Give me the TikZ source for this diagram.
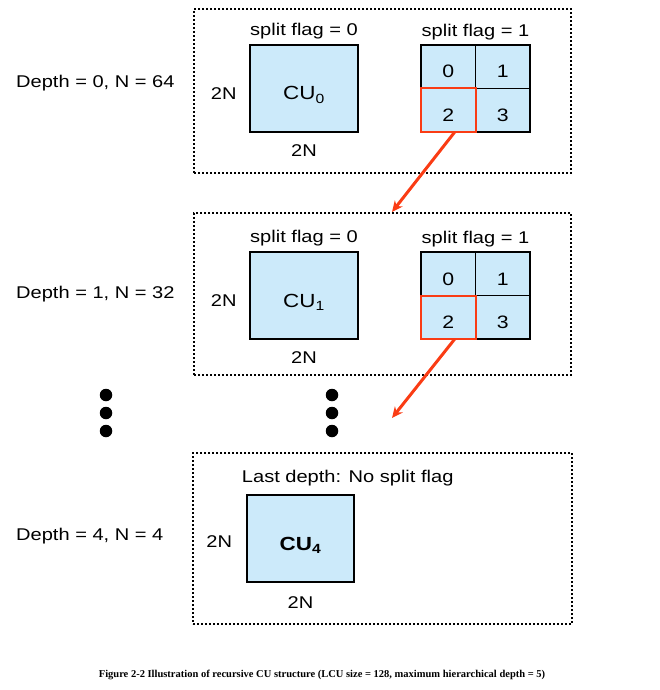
\documentclass[tikz,border=0pt]{standalone}
\usepackage{fontspec}
\setmainfont{Liberation Sans}
\newfontfamily\lblfont[FakeStretch=1.18]{Liberation Sans}
\newfontfamily\capfont{Liberation Serif}
\usetikzlibrary{positioning, arrows.meta}
\definecolor{cufill}{RGB}{204,234,250}
\definecolor{flagred}{RGB}{250,60,20}
\tikzset{
	level/.style={draw, line width=2pt, dash pattern=on 2pt off 2pt, inner sep=0pt, minimum width=377pt},
	cu/.style={draw, line width=2.5pt, fill=cufill, inner sep=0pt, minimum width=108pt, minimum height=87pt, font=\lblfont\fontsize{19}{22}\selectfont, text height=23pt, text depth=0pt},
	cell/.style={draw, line width=1.5pt, fill=cufill, inner sep=0pt, outer sep=0pt, minimum width=54.5pt, minimum height=43.5pt, font=\lblfont\fontsize{18}{21}\selectfont, text height=22.5pt, text depth=0pt},
	lbl/.style={inner sep=1pt, font=\lblfont\fontsize{17}{20}\selectfont},
	% the three dots between the levels
	bigdot/.style={circle, fill=black, inner sep=0pt, minimum size=12.5pt},
	link/.style={flagred, line width=3pt, -{Stealth[length=11pt, width=10pt]}},
}
\begin{document}
\begin{tikzpicture}[x=1pt, y=-1pt]
	\useasboundingbox (0,0) rectangle (660,690);
	
	% depth 0
	\node (lvlA) [level, minimum height=164pt] at (382.5,91) {};
	\node (dA) [lbl, anchor=base west] at (15,88) {Depth = 0, N = 64};
	\node (cuA) [cu] at (304,88.5) {CU\textsubscript{0}};
	\node (fA0) [lbl, above=4pt of cuA] {split flag = 0};
	\node (wA) [lbl, left=11pt of cuA, yshift=-5.5pt] {2N};
	\node (hA) [lbl, below=10pt of cuA] {2N};
	\node (a0) [cell] at (448.25,66.75) {0};
	\node (a1) [cell, right=0pt of a0] {1};
	\node (a2) [cell, below=0pt of a0] {2};
	\node (a3) [cell, right=0pt of a2] {3};
	\node (fA1) [lbl, above=4pt of a0.north east] {split flag = 1};
	\draw [line width=2.5pt] (a0.north west) rectangle (a3.south east);
	\draw [flagred, line width=2pt] (a2.north west) rectangle (a2.south east);
	
	% depth 1
	\node (lvlB) [level, minimum height=162pt] at (382.5,294) {};
	\node (dB) [lbl, anchor=base west] at (15,298) {Depth = 1, N = 32};
	\node (cuB) [cu] at (304,295.5) {CU\textsubscript{1}};
	\node (fB0) [lbl, above=4pt of cuB] {split flag = 0};
	\node (wB) [lbl, left=11pt of cuB, yshift=-5.5pt] {2N};
	\node (hB) [lbl, below=10pt of cuB] {2N};
	\node (b0) [cell] at (448.25,273.75) {0};
	\node (b1) [cell, right=0pt of b0] {1};
	\node (b2) [cell, below=0pt of b0] {2};
	\node (b3) [cell, right=0pt of b2] {3};
	\node (fB1) [lbl, above=4pt of b0.north east] {split flag = 1};
	\draw [line width=2.5pt] (b0.north west) rectangle (b3.south east);
	\draw [flagred, line width=2pt] (b2.north west) rectangle (b2.south east);
	
	% dots
	\foreach \i/\y in {1/395, 2/413, 3/431} {
		\node (dl\i) [bigdot] at (106,\y) {};
		\node (dr\i) [bigdot] at (332,\y) {};
	}
	
	% depth 4
	\node (lvlC) [level, minimum width=379pt, minimum height=171pt] at (382.5,538.5) {};
	\node (dC) [lbl, anchor=base west] at (15,540) {Depth = 4, N = 4};
	\node (cuC) [cu, minimum width=107pt, font=\lblfont\bfseries\fontsize{19}{22}\selectfont] at (300.5,538.5) {CU\textsubscript{4}};
	\node (last) [lbl, anchor=base west] at ([xshift=-5pt, yshift=11pt]cuC.north west) {Last depth: No split flag};
	\node (wC) [lbl, left=12.5pt of cuC, yshift=-3.5pt] {2N};
	\node (hC) [lbl, below=12.5pt of cuC] {2N};
	
	\coordinate (next) at (392,418);
	
	\draw [link] ([xshift=6.5pt]a2.south) -- ([xshift=9.5pt]lvlB.north);
	\draw [link] ([xshift=6.5pt]b2.south) -- (next);
	
	\node (cap) [anchor=base, font=\capfont\bfseries\fontsize{10.5}{12}\selectfont] at (322,677) {Figure 2-2 Illustration of recursive CU structure (LCU size = 128, maximum hierarchical depth = 5)};
\end{tikzpicture}
\end{document}
